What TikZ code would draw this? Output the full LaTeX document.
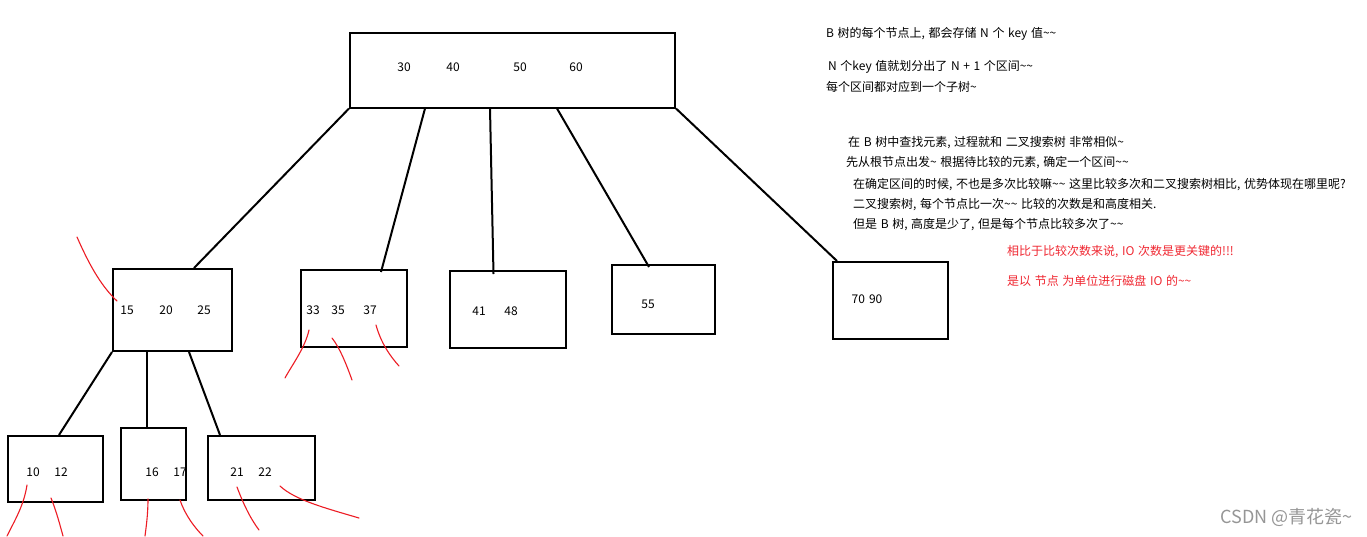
\documentclass[tikz,border=0pt]{standalone}
\usepackage{fontspec}
\setmainfont{Noto Sans CJK SC}
\usetikzlibrary{calc}
\definecolor{redpen}{RGB}{237,28,36}
\definecolor{redtxt}{RGB}{240,40,50}
\definecolor{wm}{RGB}{150,150,150}
\newcommand\notefont{\fontsize{12}{14}\selectfont\spaceskip=3.6pt plus 1pt\relax}
\tikzset{
  box/.style={draw=black, line width=2pt, rectangle, inner sep=0pt},
  edge/.style={draw=black, line width=2pt},
  num/.style={font=\fontsize{12}{14}\selectfont, inner sep=0pt},
  note/.style={font=\notefont, anchor=west, inner sep=0pt},
  rnote/.style={note, text=redtxt},
  pen/.style={draw=redpen, line width=1.1pt, line cap=round},
}
\begin{document}
\begin{tikzpicture}[x=1pt,y=-1pt]
\useasboundingbox[fill=white] (0,0) rectangle (1367,536);
% boxes
\node[box, minimum width=325pt, minimum height=75pt] (root) at (512.5,70) {};
\node[box, minimum width=119pt, minimum height=82pt] (A) at (172.5,310) {};
\node[box, minimum width=106pt, minimum height=77pt] (B) at (354,308.5) {};
\node[box, minimum width=116pt, minimum height=77pt] (C) at (507.5,309.5) {};
\node[box, minimum width=103pt, minimum height=69pt] (D) at (663.5,299.5) {};
\node[box, minimum width=115pt, minimum height=77pt] (E) at (890.5,300.5) {};
\node[box, minimum width=95pt, minimum height=66pt] (F) at (55.5,469) {};
\node[box, minimum width=65pt, minimum height=72pt] (G) at (153.5,464) {};
\node[box, minimum width=107pt, minimum height=64pt] (H) at (261.5,468) {};
% keys
\node[num] (k30) at (404,67) {30};
\node[num] (k40) at (453,67) {40};
\node[num] (k50) at (520,67) {50};
\node[num] (k60) at (576,67) {60};
\node[num] (k15) at (127,310) {15};
\node[num] (k20) at (166,310) {20};
\node[num] (k25) at (204,310) {25};
\node[num] (k33) at (313,310) {33};
\node[num] (k35) at (338,310) {35};
\node[num] (k37) at (370,310) {37};
\node[num] (k41) at (479,311) {41};
\node[num] (k48) at (511,311) {48};
\node[num] (k55) at (648,304) {55};
\node[num] (k7090) at (867,299) {70\hspace{4pt}90};
\node[num] (k10) at (33,472) {10};
\node[num] (k12) at (61,472) {12};
\node[num] (k16) at (152,472) {16};
\node[num] (k17) at (180,472) {17};
\node[num] (k21) at (237,472) {21};
\node[num] (k22) at (265,472) {22};
% edges from root
\draw[edge] (root.south west) -- ($(A.north west)+(82,0)$);
\draw[edge] ($(root.south west)+(76,0)$) -- ($(B.north west)+(81,3)$);
\draw[edge] ($(root.south west)+(141,0)$) -- ($(C.north west)+(45,4)$);
\draw[edge] ($(root.south west)+(208,0)$) -- ($(D.north west)+(38,3)$);
\draw[edge] (root.south east) -- ($(E.north west)+(5,0)$);
% edges from A
\draw[edge] (A.south west) -- ($(F.north west)+(52,0)$);
\draw[edge] ($(A.south west)+(35,0)$) -- ($(G.north west)+(27,0)$);
\draw[edge] ($(A.south west)+(77,0)$) -- ($(H.north west)+(13,0)$);
% red pen strokes
\draw[pen] (77,237) .. controls (88,262) and (100,285) .. (117,301);
\draw[pen] (309,330) .. controls (305,348) and (292,365) .. (285,378);
\draw[pen] (332,338) .. controls (340,348) and (347,366) .. (352,380);
\draw[pen] (376,325) .. controls (381,343) and (390,356) .. (399,366);
\draw[pen] (27,485) .. controls (24,505) and (15,520) .. (7,536);
\draw[pen] (51,498) .. controls (56,510) and (60,525) .. (63,536);
\draw[pen] (148,499) .. controls (148,515) and (146,528) .. (145,536);
\draw[pen] (180,500) .. controls (185,515) and (195,528) .. (203,536);
\draw[pen] (237,487) .. controls (243,503) and (250,518) .. (259,530);
\draw[pen] (280,486) .. controls (295,500) and (325,508) .. (359,518);
% notes
\node[note] (n1) at (826,34) {B 树的每个节点上, 都会存储 N 个 key 值\textasciitilde\textasciitilde};
\node[note] (n2) at (828,67) {N 个key 值就划分出了 N + 1 个区间\textasciitilde\textasciitilde};
\node[note] (n3) at (826,87) {每个区间都对应到一个子树\textasciitilde};
\node[note] (n4) at (848,143) {在 B 树中查找元素, 过程就和 二叉搜索树 非常相似\textasciitilde};
\node[note] (n5) at (846,163) {先从根节点出发\textasciitilde{} 根据待比较的元素, 确定一个区间\textasciitilde\textasciitilde};
\node[note] (n6) at (853,185) {在确定区间的时候, 不也是多次比较嘛\textasciitilde\textasciitilde{} 这里比较多次和二叉搜索树相比, 优势体现在哪里呢?};
\node[note] (n7) at (853,205) {二叉搜索树, 每个节点比一次\textasciitilde\textasciitilde{} 比较的次数是和高度相关.};
\node[note] (n8) at (853,225) {但是 B 树, 高度是少了, 但是每个节点比较多次了\textasciitilde\textasciitilde};
\node[rnote] (n9) at (1007,252) {相比于比较次数来说, IO 次数是更关键的!!!};
\node[rnote] (n10) at (1007,281) {是以 节点 为单位进行磁盘 IO 的\textasciitilde\textasciitilde};
\node[anchor=east, inner sep=0pt, text=wm, font=\fontsize{18}{20}\selectfont] (wmk) at (1353,517) {CSDN @青花瓷\textasciitilde};
\end{tikzpicture}
\end{document}
